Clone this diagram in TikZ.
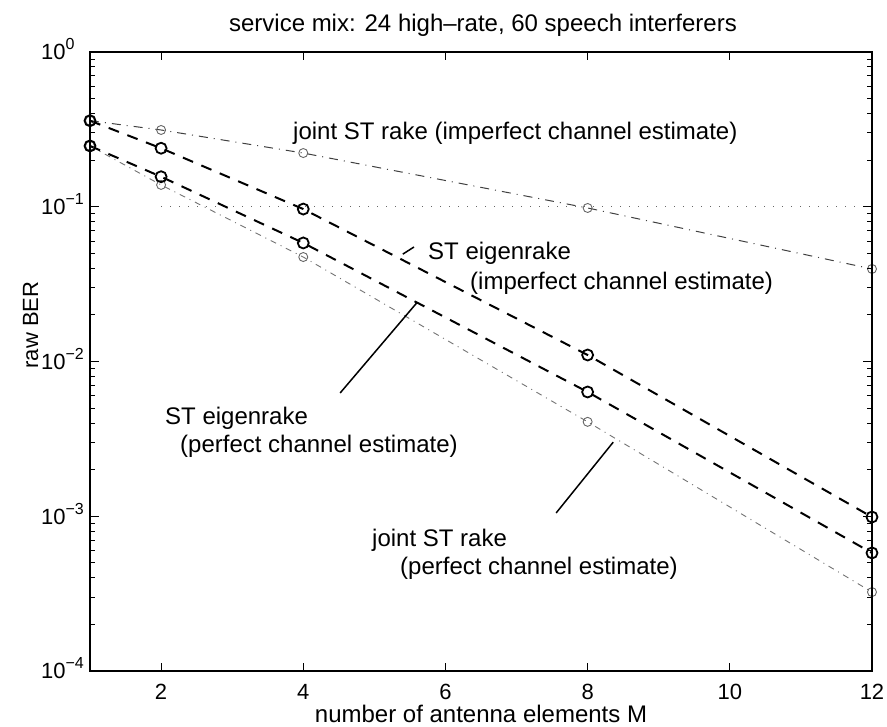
\documentclass[tikz,border=0pt]{standalone}
\usepackage{fontspec}
\setmainfont{Liberation Sans}

\begin{document}
\begin{tikzpicture}[x=1pt,y=1pt,
  every node/.style={inner sep=0pt},
  lbl/.style={font=\fontsize{24}{28}\selectfont, anchor=base west},
  ticklbl/.style={font=\fontsize{22}{26}\selectfont},
  axisline/.style={line width=1.6pt},
  tickline/.style={line width=1pt},
  rakeimp/.style={line width=1pt, black!75, dash pattern=on 9pt off 6pt on 1pt off 6pt},
  eigenline/.style={line width=2pt, dash pattern=on 11pt off 9pt},
  rakeperf/.style={line width=0.9pt, black!55, dash pattern=on 6pt off 5pt on 1pt off 5pt},
  bigmark/.style={line width=1.8pt},
  smallmark/.style={line width=0.9pt, black!60},
  pointer/.style={line width=1.5pt}]
\useasboundingbox (0,0) rectangle (887,727);

\node[lbl, anchor=base] (title) at (483,695) {service mix: 24 high–rate, 60 speech interferers};

\begin{scope}[shift={(18.91,675)}, x=71.09pt, y=154.75pt]
  % log10 of the BER values
  \foreach \m/\v in {1/-0.444,2/-0.504,4/-0.653,8/-1.008,12/-1.402}
    \coordinate (A\m) at (\m,\v);
  \foreach \m/\v in {1/-0.444,2/-0.622,4/-1.015,8/-1.958,12/-3.005}
    \coordinate (B\m) at (\m,\v);
  \foreach \m/\v in {1/-0.607,2/-0.806,4/-1.234,8/-2.197,12/-3.237}
    \coordinate (C\m) at (\m,\v);
  \foreach \m/\v in {1/-0.607,2/-0.859,4/-1.325,8/-2.390,12/-3.490}
    \coordinate (D\m) at (\m,\v);

  \draw[line width=0.9pt, black!60, dash pattern=on 1pt off 8pt] (2,-1) -- (11.75,-1);

  \draw[rakeperf] (D1) -- (D2) -- (D4) -- (D8) -- (D12);
  \draw[eigenline] (C1) -- (C2) -- (C4) -- (C8) -- (C12);
  \draw[rakeimp] (A1) -- (A2) -- (A4) -- (A8) -- (A12);
  \draw[eigenline] (B1) -- (B2) -- (B4) -- (B8) -- (B12);

  \foreach \m in {1,2,4,8,12}{
    \draw[smallmark] (A\m) circle (4.5pt);
    \draw[smallmark] (D\m) circle (4.5pt);
    \draw[bigmark] (B\m) circle (5.5pt);
    \draw[bigmark] (C\m) circle (5.5pt);
  }

  \path (B4) -- (B8) coordinate[pos=0.35] (tipEI);
  \path (C4) -- (C8) coordinate[pos=0.4] (tipEP);
  \path (D8) -- (D12) coordinate[pos=0.09] (tipRP);

  % axes
  \draw[axisline] (1,-4) rectangle (12,0);
  \foreach \m in {2,4,6,8,10}{
    \draw[tickline] (\m,-4) -- ++(0,8pt);
    \draw[tickline] (\m,0) -- ++(0,-8pt);
  }
  \foreach \m in {2,4,6,8,10,12}
    \node[ticklbl, anchor=base] (xt\m) at ([yshift=-29pt]\m,-4) {\m};
  \foreach \d in {0,-1,-2,-3,-4}{
    \draw[tickline] (1,\d) -- ++(9pt,0);
    \draw[tickline] (12,\d) -- ++(-9pt,0);
  }
  \foreach \d in {-4,-3,-2,-1}
    \foreach \k in {2,...,9}{
      \draw[tickline] (1,{\d+log10(\k)}) -- ++(5pt,0);
      \draw[tickline] (12,{\d+log10(\k)}) -- ++(-5pt,0);
    }
  \foreach \d/\e in {0/0,-1/−1,-2/−2,-3/−3,-4/−4}
    \node[ticklbl, anchor=base west] (yt\d) at ([yshift=-8pt]0.31,\d)
      {10\raisebox{10pt}{\fontsize{16}{16}\selectfont\e}};
\end{scope}

\node[lbl, anchor=base] (xlbl) at (481,4) {number of antenna elements M};
\node[font=\fontsize{22}{26}\selectfont, rotate=90, anchor=base] (ylbl) at (38,402) {raw BER};

\node[lbl] (rakeImp) at (293,587) {joint ST rake (imperfect channel estimate)};
\node[lbl] (eigImpA) at (428,467) {ST eigenrake};
\node[lbl] (eigImpB) at (470,437) {(imperfect channel estimate)};
\node[lbl] (eigPerfA) at (165,302) {ST eigenrake};
\node[lbl] (eigPerfB) at (180,274) {(perfect channel estimate)};
\node[lbl] (rakePerfA) at (372,180) {joint ST rake};
\node[lbl] (rakePerfB) at (400,152) {(perfect channel estimate)};

\draw[pointer] ([yshift=6pt]tipEI) -- ([xshift=-14pt,yshift=13pt]eigImpA.base west);
\draw[pointer] ([xshift=32pt,yshift=32pt]eigPerfA.base east) -- (tipEP);
\draw[pointer] ([xshift=49pt,yshift=34pt]rakePerfA.base east) -- ([yshift=-5pt]tipRP);
\end{tikzpicture}
\end{document}
